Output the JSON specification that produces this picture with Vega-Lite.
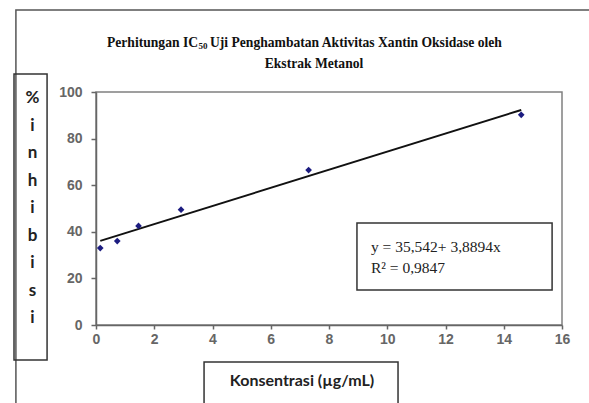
{
  "$schema": "https://vega.github.io/schema/vega-lite/v6.json",
  "width": 466,
  "height": 233,
  "autosize": {"type": "none"},
  "padding": {"left": 96, "top": 92, "right": 27, "bottom": 78},
  "background": "white",
  "config": {
    "view": {"stroke": "#808080", "strokeWidth": 1.5},
    "axis": {
      "grid": false,
      "domainColor": "#666666",
      "domainWidth": 1.5,
      "tickColor": "#666666",
      "tickWidth": 1.5,
      "tickSize": 4,
      "labelFont": "Liberation Sans",
      "labelFontSize": 14,
      "labelFontWeight": "bold",
      "labelColor": "#666666",
      "labelFlush": false
    }
  },
  "datasets": {
    "points": [
      {"konsentrasi": 0.146, "inhibisi": 33.0},
      {"konsentrasi": 0.73, "inhibisi": 36.0},
      {"konsentrasi": 1.46, "inhibisi": 42.5},
      {"konsentrasi": 2.92, "inhibisi": 49.5},
      {"konsentrasi": 7.3, "inhibisi": 66.5},
      {"konsentrasi": 14.6, "inhibisi": 90.2}
    ],
    "trend": [
      {"konsentrasi": 0.146, "inhibisi": 36.1},
      {"konsentrasi": 14.6, "inhibisi": 92.3}
    ],
    "one": [{}]
  },
  "layer": [
    {
      "data": {"name": "one"},
      "mark": {"type": "rect", "fill": "transparent", "stroke": "#555555", "strokeWidth": 1.5},
      "encoding": {
        "x": {"datum": -2.75}, "x2": {"datum": 17.4},
        "y": {"datum": 135.2}, "y2": {"datum": -42}
      }
    },
    {
      "data": {"name": "one"},
      "mark": {"type": "rect", "fill": "transparent", "stroke": "#333333", "strokeWidth": 1.5},
      "encoding": {
        "x": {"datum": -2.815}, "x2": {"datum": -1.68},
        "y": {"datum": 107.7}, "y2": {"datum": -15.0}
      }
    },
    {
      "data": {"name": "one"},
      "mark": {"type": "rect", "fill": "transparent", "stroke": "#333333", "strokeWidth": 1.5},
      "encoding": {
        "x": {"datum": 3.71}, "x2": {"datum": 10.37},
        "y": {"datum": -15.9}, "y2": {"datum": -42}
      }
    },
    {
      "data": {"name": "one"},
      "mark": {"type": "rect", "fill": "transparent", "stroke": "#333333", "strokeWidth": 1.5},
      "encoding": {
        "x": {"datum": 8.96}, "x2": {"datum": 15.66},
        "y": {"datum": 43.8}, "y2": {"datum": 15.0}
      }
    },
    {
      "data": {"name": "trend"},
      "mark": {"type": "line", "color": "#111111", "strokeWidth": 2},
      "encoding": {
        "x": {"field": "konsentrasi", "type": "quantitative"},
        "y": {"field": "inhibisi", "type": "quantitative"}
      }
    },
    {
      "data": {"name": "points"},
      "mark": {"type": "point", "shape": "diamond", "filled": true, "color": "#1c1c80", "size": 45, "opacity": 1},
      "encoding": {
        "x": {
          "field": "konsentrasi", "type": "quantitative",
          "scale": {"domain": [0, 16], "nice": false, "zero": false},
          "axis": {
            "values": [0, 2, 4, 6, 8, 10, 12, 14, 16],
            "labelPadding": 3,
            "title": "Konsentrasi (µg/mL)",
            "titleFont": "Lato",
            "titleFontSize": 16,
            "titleFontWeight": "bold",
            "titleColor": "#222222",
            "titleX": 205.5,
            "titleY": 55,
            "titleBaseline": "middle",
            "titleAlign": "center"
          }
        },
        "y": {
          "field": "inhibisi", "type": "quantitative",
          "scale": {"domain": [0, 100], "nice": false, "zero": false},
          "axis": {
            "values": [0, 20, 40, 60, 80, 100],
            "tickSize": 5,
            "labelPadding": 9,
            "title": ["%", "i", "n", "h", "i", "b", "i", "s", "i"],
            "titleFont": "Lato",
            "titleFontSize": 17,
            "titleFontWeight": "bold",
            "titleColor": "#222222",
            "titleAngle": 0,
            "titleX": -64,
            "titleY": -2.4,
            "titleBaseline": "top",
            "titleAlign": "center",
            "titleLineHeight": 27.5
          }
        }
      }
    },
    {
      "data": {"name": "one"},
      "mark": {"type": "text", "text": "Perhitungan IC", "font": "Liberation Serif", "fontWeight": "bold", "fontSize": 13.6, "color": "#111111", "align": "right", "baseline": "middle"},
      "encoding": {"x": {"datum": 3.502}, "y": {"datum": 121.0}}
    },
    {
      "data": {"name": "one"},
      "mark": {"type": "text", "text": "50", "font": "Liberation Serif", "fontWeight": "bold", "fontSize": 9, "color": "#111111", "align": "left", "baseline": "middle"},
      "encoding": {"x": {"datum": 3.52}, "y": {"datum": 119.6}}
    },
    {
      "data": {"name": "one"},
      "mark": {"type": "text", "text": "Uji Penghambatan Aktivitas Xantin Oksidase oleh", "font": "Liberation Serif", "fontWeight": "bold", "fontSize": 13.6, "color": "#111111", "align": "left", "baseline": "middle"},
      "encoding": {"x": {"datum": 3.914}, "y": {"datum": 121.0}}
    },
    {
      "data": {"name": "one"},
      "mark": {"type": "text", "text": "Ekstrak Metanol", "font": "Liberation Serif", "fontWeight": "bold", "fontSize": 13.6, "color": "#111111", "align": "center", "baseline": "middle"},
      "encoding": {"x": {"datum": 7.485}, "y": {"datum": 112.2}}
    },
    {
      "data": {"name": "one"},
      "mark": {"type": "text", "text": "y = 35,542+ 3,8894x", "font": "Liberation Serif", "fontSize": 15.5, "color": "#222222", "align": "left", "baseline": "middle"},
      "encoding": {"x": {"datum": 9.44}, "y": {"datum": 33.5}}
    },
    {
      "data": {"name": "one"},
      "mark": {"type": "text", "text": "R² = 0,9847", "font": "Liberation Serif", "fontSize": 15.5, "color": "#222222", "align": "left", "baseline": "middle"},
      "encoding": {"x": {"datum": 9.44}, "y": {"datum": 24.5}}
    }
  ]
}
